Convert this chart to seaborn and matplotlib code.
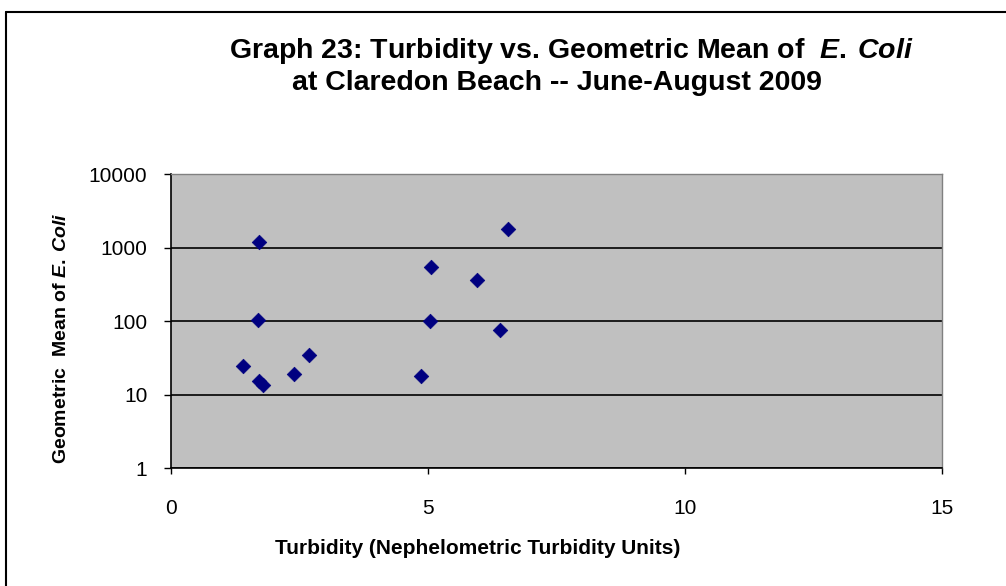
import matplotlib
matplotlib.use("Agg")
import matplotlib.pyplot as plt
import seaborn as sns
import pandas as pd
from matplotlib.lines import Line2D

# Turbidity readings and geometric mean of E. coli
turbidity = [1.71, 1.69, 1.41, 1.72, 1.80, 2.39, 2.69, 4.87, 5.06, 5.04, 5.96, 6.41, 6.55]
ecoli_mean = [1190, 104, 24.6, 15.4, 13.6, 19.3, 35.2, 18.2, 543, 101, 365, 76, 1790]

x_ticks = [0, 5, 10, 15]
y_ticks = [1, 10, 100, 1000, 10000]
y_tick_labels = ['1', '10', '100', '1000', '10000']

data = pd.DataFrame({'turbidity': turbidity, 'ecoli': ecoli_mean})

sns.set_style("white")
plt.rcParams['font.family'] = ['Liberation Sans', 'DejaVu Sans']
plt.rcParams['text.color'] = 'black'
plt.rcParams['xtick.color'] = 'black'
plt.rcParams['ytick.color'] = 'black'
plt.rcParams['mathtext.fontset'] = 'custom'
plt.rcParams['mathtext.rm'] = 'Liberation Sans:bold'
plt.rcParams['mathtext.it'] = 'Liberation Sans:bold:italic'

W, H = 1006, 586
fig = plt.figure(figsize=(W / 100, H / 100), dpi=100)
ax = fig.add_axes([171 / W, 1 - 468.3 / H, 770.7 / W, 294 / H])

sns.scatterplot(ax=ax, data=data, x='turbidity', y='ecoli', marker='D',
                color='#000080', edgecolor='#000080', s=55, linewidth=0.5, zorder=3)

ax.set_yscale('log')
ax.set_xlim(0, 15)
ax.set_ylim(1, 10000)
ax.set_facecolor('#C0C0C0')

ax.set_xticks(x_ticks)
ax.set_xticklabels([str(t) for t in x_ticks], fontsize=15)
ax.set_yticks(y_ticks)
ax.set_yticklabels(y_tick_labels, fontsize=15)
ax.minorticks_off()
ax.tick_params(axis='y', direction='out', length=5, width=1, pad=12, left=True)
ax.tick_params(axis='x', direction='out', length=4.3, width=1, pad=18, bottom=True)

ax.yaxis.grid(True, color='black', linewidth=1.2)
ax.xaxis.grid(False)
ax.set_axisbelow(True)

for side in ['left', 'bottom']:
    ax.spines[side].set_color('black')
    ax.spines[side].set_linewidth(1.2)
for side in ['top', 'right']:
    ax.spines[side].set_color('#808080')
    ax.spines[side].set_linewidth(1)

ax.set_xlabel('')
ax.set_ylabel('')
fig.text(478 / W, 1 - 554 / H, 'Turbidity (Nephelometric Turbidity Units)',
         ha='center', va='baseline', fontsize=15, fontweight='bold')
fig.text(61 / W, 1 - 338 / H, r'Geometric  Mean of $\mathit{E.\:Coli}$',
         ha='center', va='center', rotation=90, fontsize=14, fontweight='bold')

fig.text(571 / W, 1 - 57.7 / H, r'Graph 23: Turbidity vs. Geometric Mean of  $\mathit{E.\:Coli}$',
         ha='center', va='baseline', fontsize=20.5, fontweight='bold')
fig.text(557 / W, 1 - 90 / H, 'at Claredon Beach -- June-August 2009',
         ha='center', va='baseline', fontsize=20.5, fontweight='bold')

# chart area border (left and top edges visible)
fig.add_artist(Line2D([6 / W, 6 / W], [0, 1 - 12 / H], transform=fig.transFigure,
                      color='black', linewidth=1.5))
fig.add_artist(Line2D([6 / W, 1], [1 - 12 / H, 1 - 12 / H], transform=fig.transFigure,
                      color='black', linewidth=1.5))

plt.savefig("out.png", dpi=100)
